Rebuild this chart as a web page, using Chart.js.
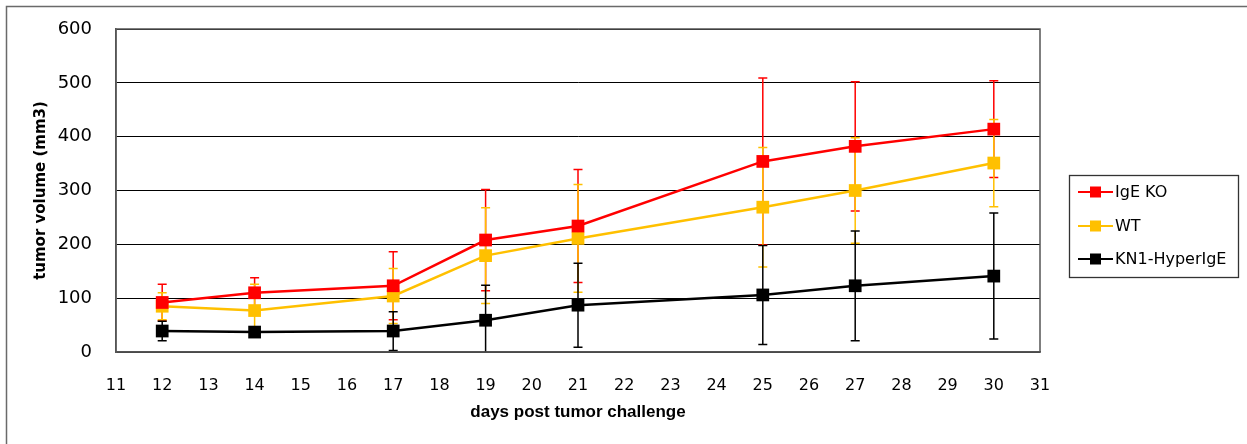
<!DOCTYPE html>
<html>
<head>
<meta charset="utf-8">
<script src="https://cdn.jsdelivr.net/npm/chart.js@4.4.1/dist/chart.umd.min.js"></script>
<style>
  html, body { margin: 0; padding: 0; background: #ffffff; }
  canvas { display: block; }
</style>
</head>
<body>
<canvas id="tumor" width="1247" height="444" style="width:1247px;height:444px"></canvas>
<script>
// Days after challenge on which tumours were measured
const days = [12, 14, 17, 19, 21, 25, 27, 30];

// Mean tumour volume (mm3) and its error (±) per group
const igeKO     = [92, 110, 123, 208, 234, 354, 382, 414];
const igeKOErr  = [34, 28, 63, 94, 105, 155, 120, 90];
const wt        = [85, 77, 104, 179, 211, 269, 300, 351];
const wtErr     = [25, 49, 51, 89, 100, 111, 98, 81];
const kn1       = [39, 37, 39, 59, 87, 106, 123, 141];
const kn1Err    = [18, 8, 36, 65, 78, 92, 102, 117];

const seriesNames = ['IgE KO', 'WT', 'KN1-HyperIgE'];
const seriesColors = ['#FF0000', '#FFC000', '#000000'];

const xTicks = { min: 11, max: 31, step: 1 };
const yTicks = { min: 0, max: 600, step: 100 };

function points(values) {
  return values.map((v, i) => ({ x: days[i], y: v }));
}

function lineSet(label, values, errors, color) {
  return {
    label: label,
    data: points(values),
    errors: errors,
    borderColor: color,
    backgroundColor: color,
    borderWidth: 2.5,
    tension: 0,
    pointStyle: 'rect',
    pointRadius: 9,
    pointHoverRadius: 9,
    pointBorderWidth: 0,
    pointBackgroundColor: color
  };
}

// Vertical error bars with caps, drawn under the lines and markers
const errorBars = {
  id: 'errorBars',
  beforeDatasetsDraw(chart) {
    const { ctx, chartArea, scales } = chart;
    ctx.save();
    ctx.beginPath();
    ctx.rect(chartArea.left, chartArea.top - 1, chartArea.right - chartArea.left, chartArea.bottom - chartArea.top + 1);
    ctx.clip();
    chart.data.datasets.forEach(ds => {
      ctx.strokeStyle = ds.borderColor;
      ctx.lineWidth = 1.5;
      ds.data.forEach((p, i) => {
        const e = ds.errors[i];
        const x = scales.x.getPixelForValue(p.x);
        const yTop = scales.y.getPixelForValue(p.y + e);
        const yBot = scales.y.getPixelForValue(p.y - e);
        ctx.beginPath();
        ctx.moveTo(x, yTop);
        ctx.lineTo(x, yBot);
        ctx.moveTo(x - 4.5, yTop);
        ctx.lineTo(x + 4.5, yTop);
        ctx.moveTo(x - 4.5, yBot);
        ctx.lineTo(x + 4.5, yBot);
        ctx.stroke();
      });
    });
    ctx.restore();
  }
};

// Plot frame, outer frame and the boxed legend on the right
const frames = {
  id: 'frames',
  beforeDraw(chart) {
    const { ctx } = chart;
    ctx.save();
    ctx.fillStyle = '#ffffff';
    ctx.fillRect(0, 0, chart.width, chart.height);
    ctx.strokeStyle = '#6a6a6a';
    ctx.lineWidth = 1.5;
    ctx.strokeRect(6.5, 6.5, chart.width + 20, chart.height + 20);
    ctx.restore();
  },
  afterDraw(chart) {
    const { ctx, chartArea } = chart;
    ctx.save();
    ctx.strokeStyle = '#555555';
    ctx.lineWidth = 1.5;
    ctx.strokeRect(chartArea.left, chartArea.top, chartArea.right - chartArea.left, chartArea.bottom - chartArea.top);

    // legend box
    const bx = 1069.5, by = 175.5, bw = 169, bh = 102;
    ctx.fillStyle = '#ffffff';
    ctx.fillRect(bx, by, bw, bh);
    ctx.strokeStyle = '#333333';
    ctx.lineWidth = 1.3;
    ctx.strokeRect(bx, by, bw, bh);
    const rows = [192, 226, 259];
    ctx.font = '16px "DejaVu Sans", Verdana, sans-serif';
    ctx.textBaseline = 'middle';
    ctx.textAlign = 'left';
    chart.data.datasets.forEach((ds, i) => {
      const y = rows[i];
      ctx.strokeStyle = ds.borderColor;
      ctx.lineWidth = 2;
      ctx.beginPath();
      ctx.moveTo(1078, y);
      ctx.lineTo(1113, y);
      ctx.stroke();
      ctx.fillStyle = ds.borderColor;
      ctx.fillRect(1090, y - 5.5, 11, 11);
      ctx.fillStyle = '#000000';
      ctx.fillText(ds.label, 1115, y + 1);
    });
    ctx.restore();
  }
};

new Chart(document.getElementById('tumor'), {
  type: 'line',
  data: {
    datasets: [
      lineSet(seriesNames[0], igeKO, igeKOErr, seriesColors[0]),
      lineSet(seriesNames[1], wt, wtErr, seriesColors[1]),
      lineSet(seriesNames[2], kn1, kn1Err, seriesColors[2])
    ]
  },
  options: {
    responsive: false,
    animation: false,
    devicePixelRatio: 1,
    layout: { padding: { left: 0, top: 29, right: 207, bottom: 0 } },
    plugins: {
      legend: { display: false },
      tooltip: { enabled: false }
    },
    scales: {
      x: {
        type: 'linear',
        min: xTicks.min,
        max: xTicks.max,
        afterFit(scale) {
          scale.height = 92;
          scale.paddingLeft = 0;
          scale.paddingRight = 0;
        },
        grid: { display: false, drawTicks: false },
        border: { display: true, color: '#555555', width: 1.5 },
        ticks: {
          stepSize: xTicks.step,
          padding: 24,
          color: '#000000',
          maxRotation: 0,
          autoSkip: false,
          font: { family: '"DejaVu Sans", Verdana, sans-serif', size: 16 }
        },
        title: {
          display: true,
          text: 'days post tumor challenge',
          color: '#000000',
          padding: { top: 0, bottom: 21 },
          font: { family: '"Liberation Sans", Arial, sans-serif', size: 17, weight: 'bold' }
        }
      },
      y: {
        min: yTicks.min,
        max: yTicks.max,
        afterFit(scale) {
          scale.width = 116;
          scale.paddingTop = 0;
          scale.paddingBottom = 0;
        },
        grid: { color: '#000000', lineWidth: 1, drawTicks: false },
        border: { display: true, color: '#555555', width: 1.5 },
        ticks: {
          stepSize: yTicks.step,
          padding: 24,
          color: '#000000',
          font: { family: '"DejaVu Sans", Verdana, sans-serif', size: 18 }
        },
        title: {
          display: true,
          text: 'tumor volume (mm3)',
          color: '#000000',
          padding: { top: 32, bottom: 0 },
          font: { family: '"DejaVu Sans", Verdana, sans-serif', size: 15, weight: 'bold' }
        }
      }
    }
  },
  plugins: [errorBars, frames]
});
</script>
</body>
</html>
